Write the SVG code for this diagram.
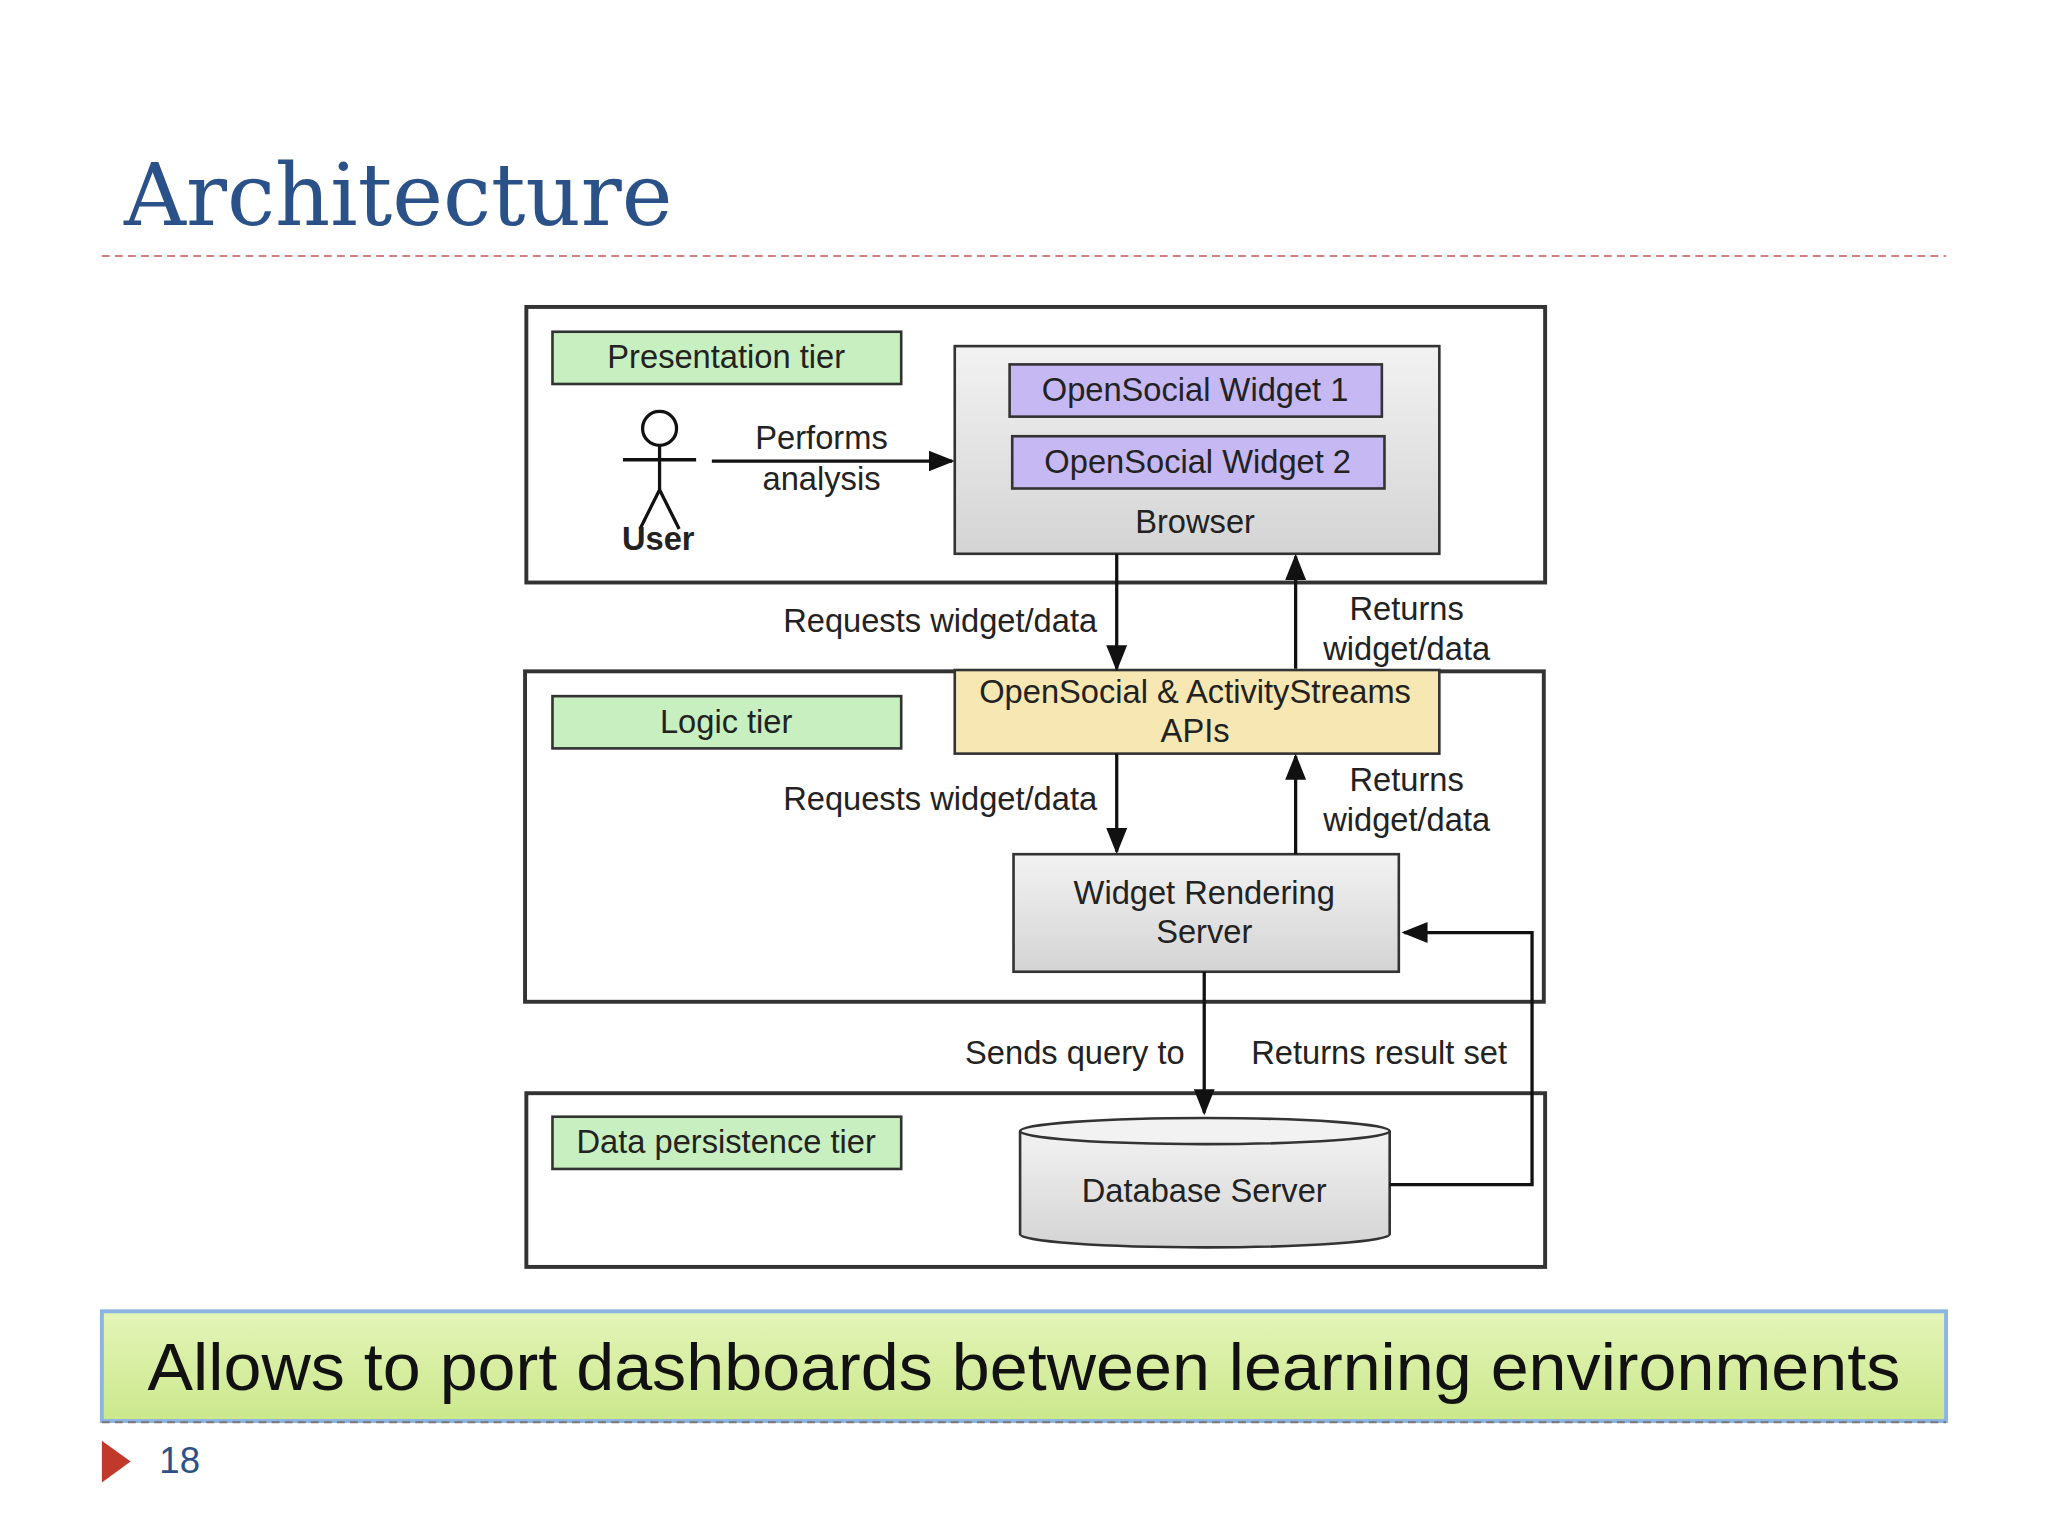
<svg xmlns="http://www.w3.org/2000/svg" width="2048" height="1536" viewBox="0 0 2048 1536">
<defs>
<style>
text{font-family:"Liberation Sans",Arial,sans-serif;fill:#222}
.t{font-size:25px}
.c{text-anchor:middle}
.r{text-anchor:end}
.tier{fill:#c8efc0;stroke:#333;stroke-width:2}
.box{fill:none;stroke:#333;stroke-width:3}
.ln{stroke:#111;stroke-width:2.5;fill:none}
</style>
<linearGradient id="gray" x1="0" y1="0" x2="0" y2="1"><stop offset="0" stop-color="#f2f2f2"/><stop offset="1" stop-color="#d4d4d4"/></linearGradient>
<linearGradient id="green" x1="0" y1="0" x2="0" y2="1"><stop offset="0" stop-color="#e4f4b8"/><stop offset="1" stop-color="#cbe88c"/></linearGradient>
<marker id="A" viewBox="0 0 10 10" refX="9" refY="5" markerWidth="20" markerHeight="16" markerUnits="userSpaceOnUse" orient="auto" preserveAspectRatio="none"><path d="M0,0L10,5L0,10z" fill="#111"/></marker>
</defs>
<rect width="2048" height="1536" fill="#fff"/>
<g transform="scale(1.3061)">
<text x="95" y="172" textLength="420" lengthAdjust="spacingAndGlyphs" style="font-family:'DejaVu Serif','Liberation Serif',serif;font-size:66px;fill:#2a5288">Architecture</text>
<line x1="78" y1="196" x2="1490" y2="196" stroke="#d08080" stroke-width="1.5" stroke-dasharray="6,4"/>

<g id="presentation">
<rect x="403" y="235" width="780" height="211" class="box"/>
<rect x="423" y="254" width="267" height="40" class="tier"/>
<text x="556" y="282" class="t c">Presentation tier</text>
</g>
<g id="browser">
<rect x="731" y="265" width="371" height="159" fill="url(#gray)" stroke="#333" stroke-width="2"/>
<text x="915" y="408" class="t c">Browser</text>
</g>
<g id="widget1"><rect x="773" y="279" width="285" height="40" fill="#c6b8f2" stroke="#333" stroke-width="2"/><text x="915" y="307" class="t c">OpenSocial Widget 1</text></g>
<g id="widget2"><rect x="775" y="334" width="285" height="40" fill="#c6b8f2" stroke="#333" stroke-width="2"/><text x="917" y="362" class="t c">OpenSocial Widget 2</text></g>
<g id="user">
<circle cx="505" cy="328" r="13" fill="none" stroke="#111" stroke-width="2.5"/>
<path d="M505,341V375M477,352H533M505,375L490,405M505,375L520,405" class="ln"/>
<text x="504" y="421" class="t c" style="font-weight:bold">User</text>
</g>
<g id="logic">
<rect x="402" y="514" width="780" height="253" class="box"/>
<rect x="423" y="533" width="267" height="40" class="tier"/>
<text x="556" y="561" class="t c">Logic tier</text>
</g>
<g id="apis"><rect x="731" y="513" width="371" height="64" fill="#f7e7b2" stroke="#333" stroke-width="2"/>
<text x="915" y="538" class="t c">OpenSocial &amp; ActivityStreams</text><text x="915" y="568" class="t c">APIs</text></g>
<g id="wrs"><rect x="776" y="654" width="295" height="90" fill="url(#gray)" stroke="#333" stroke-width="2"/>
<text x="922" y="692" class="t c">Widget Rendering</text><text x="922" y="722" class="t c">Server</text></g>
<g id="data">
<rect x="403" y="837" width="780" height="133" class="box"/>
<rect x="423" y="855" width="267" height="40" class="tier"/>
<text x="556" y="883" class="t c">Data persistence tier</text>
</g>
<g id="db">
<path d="M781,866V945A141,10 0 0 0 1064,945V866" fill="url(#gray)" stroke="#333" stroke-width="2"/>
<ellipse cx="922.5" cy="866" rx="141.5" ry="10" fill="#f2f2f2" stroke="#333" stroke-width="2"/>
<text x="922" y="920" class="t c">Database Server</text>
</g>
<g id="connectors">
<line x1="545" y1="353" x2="729" y2="353" class="ln" marker-end="url(#A)"/>
<text x="629" y="344" class="t c">Performs</text><text x="629" y="375" class="t c">analysis</text>
<line x1="855" y1="424" x2="855" y2="512" class="ln" marker-end="url(#A)"/>
<text x="840" y="484" class="t r">Requests widget/data</text>
<line x1="992" y1="512" x2="992" y2="426" class="ln" marker-end="url(#A)"/>
<text x="1077" y="475" class="t c">Returns</text><text x="1077" y="505" class="t c">widget/data</text>
<line x1="855" y1="577" x2="855" y2="652" class="ln" marker-end="url(#A)"/>
<text x="840" y="620" class="t r">Requests widget/data</text>
<line x1="992" y1="654" x2="992" y2="579" class="ln" marker-end="url(#A)"/>
<text x="1077" y="606" class="t c">Returns</text><text x="1077" y="636" class="t c">widget/data</text>
<line x1="922" y1="744" x2="922" y2="852" class="ln" marker-end="url(#A)"/>
<text x="907" y="815" class="t r">Sends query to</text>
<text x="958" y="815" class="t">Returns result set</text>
<path d="M1064,907H1173V714H1075" class="ln" marker-end="url(#A)"/>
</g>
<g id="banner">
<rect x="78" y="1004" width="1412" height="84" fill="url(#green)" stroke="#8db3e2" stroke-width="3"/>
<line x1="78" y1="1089" x2="1490" y2="1089" stroke="#777" stroke-width="1.5" stroke-dasharray="6,4"/>
<text x="784" y="1064" class="c" textLength="1342" lengthAdjust="spacingAndGlyphs" style="font-size:51px;fill:#111">Allows to port dashboards between learning environments</text>
</g>
<path d="M78,1103L100,1119L78,1135z" fill="#c0392b"/>
<text x="122" y="1128" style="font-size:28px;fill:#2a5288">18</text>
</g>
</svg>
